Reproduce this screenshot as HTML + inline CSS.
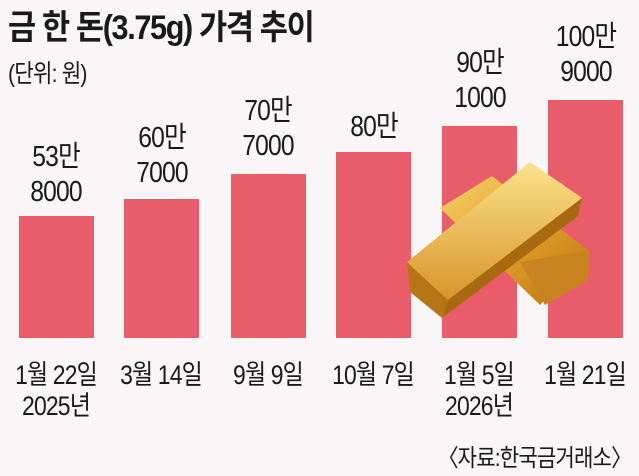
<!DOCTYPE html>
<html><head><meta charset="utf-8"><style>
body{margin:0;width:639px;height:476px;background:#f8f6f7;overflow:hidden;font-family:"Liberation Sans","Noto Sans CJK KR",sans-serif;color:#1a1a1a;position:relative}
.t{position:absolute;white-space:nowrap}
.bar{position:absolute;background:#e95d6a;bottom:138px;width:75px}
.v{position:absolute;text-align:center;width:100px;font-size:29px;line-height:35px;letter-spacing:-1px;transform:scaleX(0.85)}
.x{position:absolute;text-align:center;width:120px;font-size:27px;line-height:31px;letter-spacing:-1px;transform:scaleX(0.85)}
</style></head><body>
<div class="t" style="left:8px;top:0px;font-size:34px;font-weight:bold;letter-spacing:-1.5px;transform:scaleX(0.9);transform-origin:left">금 한 돈(3.75g) 가격 추이</div>
<div class="t" style="left:8px;top:54px;font-size:25px;letter-spacing:-1px;transform:scaleX(0.85);transform-origin:left">(단위: 원)</div>

<div class="bar" style="left:19px;top:216px"></div>
<div class="bar" style="left:124px;top:199px"></div>
<div class="bar" style="left:231px;top:174px"></div>
<div class="bar" style="left:336px;top:152px"></div>
<div class="bar" style="left:442px;top:126px"></div>
<div class="bar" style="left:548px;top:100px"></div>

<div class="v" style="left:6px;top:140px">53만<br>8000</div>
<div class="v" style="left:112px;top:121px">60만<br>7000</div>
<div class="v" style="left:218px;top:94px">70만<br>7000</div>
<div class="v" style="left:324px;top:110px">80만</div>
<div class="v" style="left:430px;top:46px">90만<br>1000</div>
<div class="v" style="left:536px;top:20px">100만<br>9000</div>

<svg style="position:absolute;left:0;top:0" width="639" height="476">
<defs><linearGradient id="g" x1="0" y1="0" x2="1" y2="1"><stop offset="0" stop-color="#f7d36a"/><stop offset="0.5" stop-color="#e0a12a"/><stop offset="1" stop-color="#b9730f"/></linearGradient>
<linearGradient id="g2" x1="0" y1="0" x2="0" y2="1"><stop offset="0" stop-color="#fbe38a"/><stop offset="1" stop-color="#d8952a"/></linearGradient></defs>
<polygon points="440,208 492,176 588,250 540,305" fill="url(#g)"/>
<polygon points="520,262 590,250 588,280 545,305" fill="#c78420"/>
<polygon points="407,262 530,162 582,198 448,300" fill="url(#g2)"/>
<polygon points="407,262 448,300 442,318 410,292" fill="#b87514"/>
<polygon points="448,300 582,198 578,216 442,318" fill="#a86a10"/>
</svg>

<div class="x" style="left:-4px;top:360px">1월 22일<br>2025년</div>
<div class="x" style="left:101px;top:360px">3월 14일</div>
<div class="x" style="left:208px;top:360px">9월 9일</div>
<div class="x" style="left:313px;top:360px">10월 7일</div>
<div class="x" style="left:419px;top:360px">1월 5일<br>2026년</div>
<div class="x" style="left:525px;top:360px">1월 21일</div>
<div class="t" style="right:8px;top:438px;font-size:24px;letter-spacing:-1px;transform:scaleX(0.88);transform-origin:right">〈자료:한국금거래소〉</div>
</body></html>
